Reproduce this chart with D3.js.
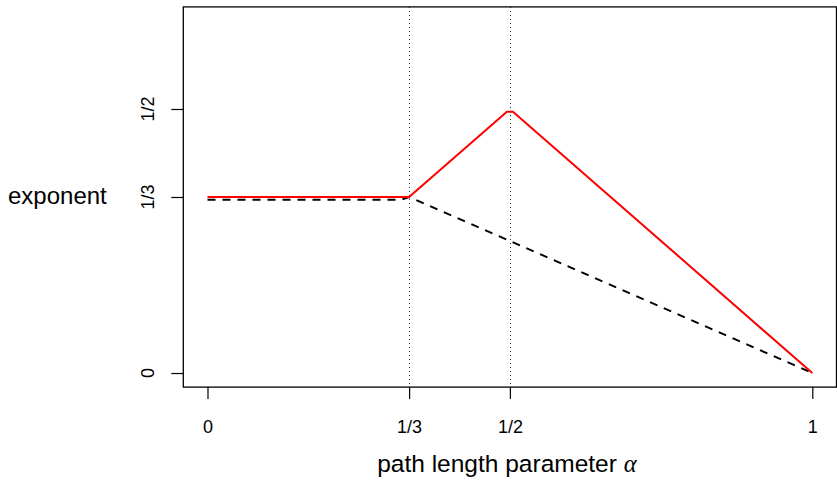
<!DOCTYPE html>
<html>
<head>
<meta charset="utf-8">
<script src="https://cdn.jsdelivr.net/npm/d3@7"></script>
<style>
  body { margin: 0; background: #fff; }
  svg { display: block; font-family: "Liberation Sans", Arial, Helvetica, sans-serif; }
</style>
</head>
<body>
<svg id="chart"></svg>
<script>
// Data
const xTicks = [0, 1/3, 1/2, 1];
const xTickLabels = ["0", "1/3", "1/2", "1"];
const yTicks = [0, 1/3, 1/2];
const yTickLabels = ["0", "1/3", "1/2"];
const guideLines = [1/3, 1/2];

// red solid curve
const upperX = [0, 1/3, 0.495, 0.505, 1];
const upperY = [1/3, 1/3, 0.495, 0.495, 0];

// black dashed curve
const lowerX = [0, 0.32, 1/3, 1];
const lowerY = [0.328, 0.328, 1/3, 0];

const width = 837;
const height = 486;

const svg = d3.select("#chart")
    .attr("width", width)
    .attr("height", height);

// Plot region (R style: limits padded by 4%)
const box = { left: 183.3, right: 836.5, top: 6.9, bottom: 387.1 };

const xScale = d3.scaleLinear()
    .domain([-0.04, 1.04])
    .range([box.left, box.right]);

const yScale = d3.scaleLinear()
    .domain([-2/3 * 0.04, 2/3 * 1.04])
    .range([box.bottom, box.top]);

// dotted vertical guides
svg.selectAll(".guide")
    .data(guideLines)
    .enter().append("line")
    .attr("class", "guide")
    .attr("x1", d => Math.round(xScale(d)) + 0.5)
    .attr("x2", d => Math.round(xScale(d)) + 0.5)
    .attr("y1", box.top)
    .attr("y2", box.bottom)
    .attr("stroke", "#222")
    .attr("stroke-width", 1)
    .attr("stroke-dasharray", "1,3");

const line = d3.line()
    .x(d => xScale(d[0]))
    .y(d => yScale(d[1]));

// dashed line first, red drawn over it
svg.append("path")
    .datum(d3.zip(lowerX, lowerY))
    .attr("d", line)
    .attr("fill", "none")
    .attr("stroke", "#000")
    .attr("stroke-width", 2)
    .attr("stroke-dasharray", "8,7");

svg.append("path")
    .datum(d3.zip(upperX, upperY))
    .attr("d", line)
    .attr("fill", "none")
    .attr("stroke", "#ff0000")
    .attr("stroke-width", 2)
    .attr("stroke-linejoin", "round");

// frame
svg.append("rect")
    .attr("x", box.left)
    .attr("y", box.top)
    .attr("width", box.right - box.left)
    .attr("height", box.bottom - box.top)
    .attr("fill", "none")
    .attr("stroke", "#000")
    .attr("stroke-width", 1.3);

// x axis
const xAxis = svg.append("g")
    .attr("transform", "translate(0," + box.bottom + ")")
    .call(d3.axisBottom(xScale)
        .tickValues(xTicks)
        .tickFormat((d, i) => xTickLabels[i])
        .tickSize(12)
        .tickPadding(21));
xAxis.select(".domain").remove();
xAxis.selectAll("line").attr("stroke", "#000").attr("stroke-width", 1.2);
xAxis.selectAll("text")
    .attr("fill", "#000")
    .style("font-size", "18px")
    .style("font-family", "'Liberation Sans', Arial, sans-serif");

// y axis, labels turned like R's las=0
const yAxis = svg.append("g")
    .attr("transform", "translate(" + box.left + ",0)")
    .call(d3.axisLeft(yScale)
        .tickValues(yTicks)
        .tickFormat("")
        .tickSize(12));
yAxis.select(".domain").remove();
yAxis.selectAll("line").attr("stroke", "#000").attr("stroke-width", 1.2);

svg.selectAll(".ylab")
    .data(yTicks)
    .enter().append("text")
    .attr("class", "ylab")
    .attr("transform", d => "translate(154," + yScale(d) + ") rotate(-90)")
    .attr("text-anchor", "middle")
    .style("font-size", "18px")
    .text((d, i) => yTickLabels[i]);

// axis titles
svg.append("text")
    .attr("x", 8)
    .attr("y", 204)
    .style("font-size", "24px")
    .text("exponent");

const xTitle = svg.append("text")
    .attr("x", (xScale(0) + xScale(1)) / 2 - 3)
    .attr("y", 472)
    .attr("text-anchor", "middle")
    .style("font-size", "24.5px");
xTitle.append("tspan").text("path length parameter ");
xTitle.append("tspan")
    .style("font-family", "'Liberation Serif', 'DejaVu Serif', serif")
    .style("font-style", "italic")
    .text("α");
</script>
</body>
</html>
